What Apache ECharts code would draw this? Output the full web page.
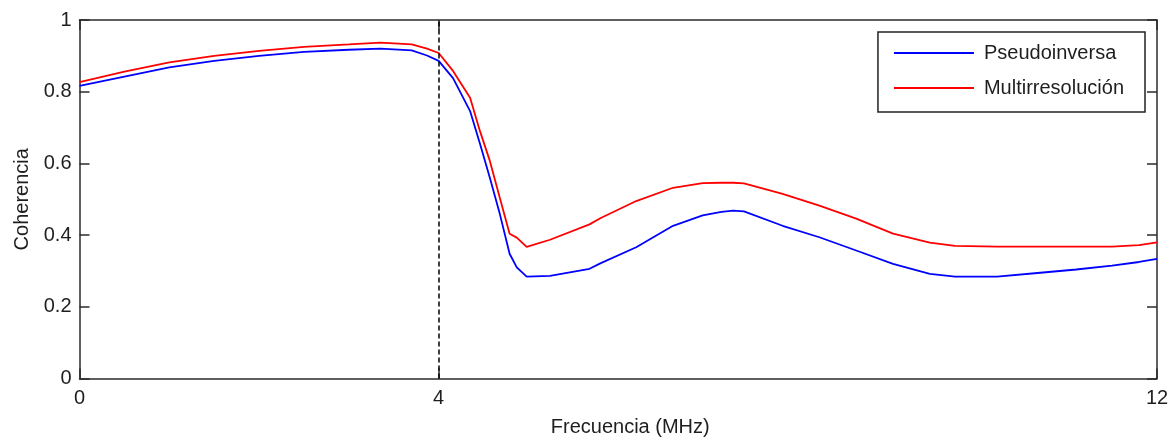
<!DOCTYPE html>
<html>
<head>
<meta charset="utf-8">
<script src="https://cdn.jsdelivr.net/npm/echarts@6/dist/echarts.min.js"></script>
<style>
html,body{margin:0;padding:0;background:#fff;}
#c{width:1174px;height:439px;}
</style>
</head>
<body>
<div id="c"></div>
<script>
const freq = [0, 0.5, 1, 1.5, 2, 2.5, 3, 3.35, 3.7, 3.87, 4, 4.16, 4.35, 4.46, 4.57, 4.68, 4.79, 4.87, 4.98, 5.24, 5.68, 5.8, 6.2, 6.61, 6.94, 7.15, 7.28, 7.4, 7.83, 8.24, 8.65, 9.06, 9.47, 9.75, 10.22, 10.7, 11.1, 11.5, 11.8, 12];
const pseudoinversa = [0.816, 0.842, 0.868, 0.886, 0.9, 0.911, 0.917, 0.92, 0.915, 0.901, 0.886, 0.838, 0.746, 0.655, 0.56, 0.46, 0.348, 0.31, 0.284, 0.286, 0.306, 0.321, 0.366, 0.426, 0.455, 0.465, 0.468, 0.466, 0.426, 0.394, 0.357, 0.32, 0.292, 0.284, 0.284, 0.295, 0.304, 0.315, 0.325, 0.334];
const multirresolucion = [0.827, 0.856, 0.882, 0.9, 0.914, 0.925, 0.932, 0.937, 0.932, 0.92, 0.908, 0.858, 0.783, 0.69, 0.607, 0.505, 0.404, 0.393, 0.367, 0.387, 0.43, 0.447, 0.495, 0.532, 0.545, 0.546, 0.546, 0.544, 0.515, 0.482, 0.446, 0.404, 0.379, 0.37, 0.368, 0.368, 0.368, 0.368, 0.372, 0.38];
const seriesNames = ['Pseudoinversa', 'Multirresolución'];
const xTicks = [0, 4, 12];
const markerX = 4;
const xTitle = 'Frecuencia (MHz)';
const yTitle = 'Coherencia';

const font = '"Liberation Sans", Arial, sans-serif';
const txt = '#1e1e1e';
const axisCol = '#2b2b2b';

const chart = echarts.init(document.getElementById('c'), null, {renderer: 'canvas'});
const pairs = (xs, ys) => xs.map((x, i) => [x, ys[i]]);

const baseX = {
  type: 'value', min: 0, max: 12,
  splitLine: {show: false},
  axisLine: {show: true, onZero: false, lineStyle: {color: axisCol, width: 1.5}},
  axisTick: {show: true, inside: true, length: 10, customValues: xTicks, lineStyle: {color: axisCol, width: 1.5}},
};
const baseY = {
  type: 'value', min: 0, max: 1, interval: 0.2,
  splitLine: {show: false},
  axisLine: {show: true, onZero: false, lineStyle: {color: axisCol, width: 1.5}},
  axisTick: {show: true, inside: true, length: 10, lineStyle: {color: axisCol, width: 1.5}},
};

chart.setOption({
  animation: false,
  backgroundColor: '#fff',
  grid: {left: 79.5, right: 17, top: 20, bottom: 60.5, containLabel: false, outerBoundsMode: 'none'},
  legend: {
    orient: 'vertical', right: 29, top: 32,
    data: seriesNames,
    backgroundColor: '#fff', borderColor: '#222', borderWidth: 1.5,
    padding: [9, 21, 12, 15],
    itemWidth: 80, itemHeight: 14, itemGap: 11,
    itemStyle: {opacity: 0},
    textStyle: {fontFamily: font, fontSize: 20, color: txt, lineHeight: 24, padding: [0, 0, 0, 5]}
  },
  xAxis: [
    Object.assign({}, baseX, {
      position: 'bottom',
      name: xTitle, nameLocation: 'middle', nameGap: 39,
      nameTextStyle: {fontFamily: font, fontSize: 20, color: txt, padding: [0, 0, 0, 24]},
      axisLabel: {show: true, customValues: xTicks, margin: 10, fontFamily: font, fontSize: 20, color: txt}
    }),
    Object.assign({}, baseX, {position: 'top', axisLabel: {show: false}})
  ],
  yAxis: [
    Object.assign({}, baseY, {
      position: 'left',
      name: yTitle, nameLocation: 'middle', nameGap: 46,
      nameTextStyle: {fontFamily: font, fontSize: 20, color: txt},
      axisLabel: {show: true, margin: 8, fontFamily: font, fontSize: 20, color: txt,
        formatter: v => String(Math.round(v * 10) / 10)}
    }),
    Object.assign({}, baseY, {position: 'right', axisLabel: {show: false}})
  ],
  series: [
    {
      name: seriesNames[0], type: 'line', xAxisIndex: 0, yAxisIndex: 0,
      data: pairs(freq, pseudoinversa), symbol: 'none', showSymbol: false,
      lineStyle: {color: '#0000ff', width: 1.8}, itemStyle: {color: '#0000ff'},
      markLine: {
        silent: true, symbol: 'none', label: {show: false},
        lineStyle: {color: '#000', type: [5, 3], width: 1.5},
        data: [{xAxis: markerX}]
      }
    },
    {
      name: seriesNames[1], type: 'line', xAxisIndex: 0, yAxisIndex: 0,
      data: pairs(freq, multirresolucion), symbol: 'none', showSymbol: false,
      lineStyle: {color: '#ff0000', width: 1.8}, itemStyle: {color: '#ff0000'}
    }
  ]
});
</script>
</body>
</html>
